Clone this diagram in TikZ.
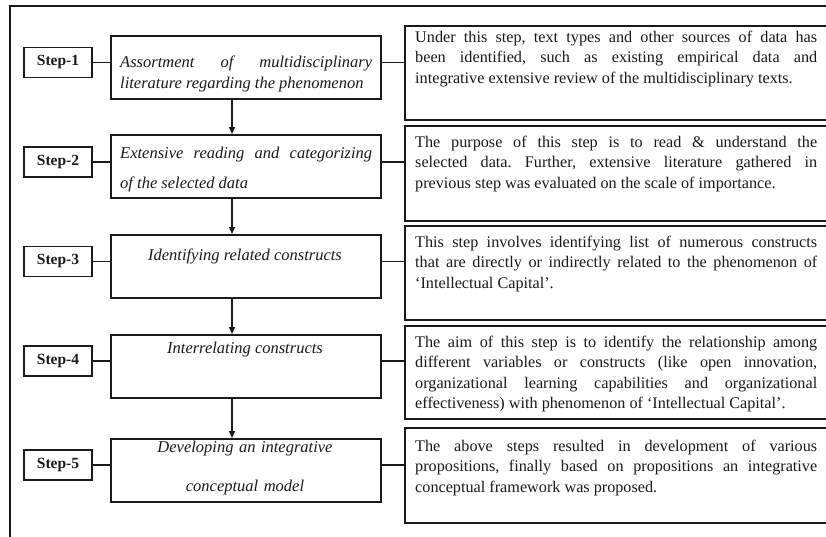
\documentclass[tikz,border=0pt]{standalone}
\usepackage{fontspec}
\setmainfont{Liberation Serif}
\usetikzlibrary{arrows.meta}
\definecolor{ink}{HTML}{1A1A1A}
\hyphenpenalty=10000
\tolerance=9999
\frenchspacing
\begin{document}
\begin{tikzpicture}[x=1pt,y=-1pt,
  stepbox/.style={draw=ink,line width=1.9pt,minimum width=68pt,minimum height=30pt,inner sep=0pt,
    font=\fontsize{15.5}{18}\selectfont\bfseries,text=ink},
  midbox/.style={draw=ink,line width=2pt,minimum width=270pt,minimum height=63pt,inner sep=0pt},
  rightbox/.style={draw=ink,line width=2pt,minimum width=425pt,minimum height=94pt,inner sep=0pt},
  midtext/.style={inner sep=0pt,text=ink,font=\fontsize{16.5}{21}\selectfont\itshape},
  righttext/.style={inner sep=0pt,text=ink,text width=402pt,align=justify,anchor=base west,
    font=\fontsize{16.2}{20.5}\selectfont},
  link/.style={draw=ink,line width=1.1pt},
  flow/.style={draw=ink,line width=1.3pt,-{Triangle[length=7pt,width=6pt]}}]
\useasboundingbox (0,0) rectangle (826,536);
\clip (0,0) rectangle (826,536);
\fill[white] (0,0) rectangle (826,536);
% outer frame
\draw[ink,line width=2.4pt] (10,560) -- (10,6) -- (840,6);
% step boxes
\node[stepbox] (s1) at (58,62.5) {Step-1};
\node[stepbox] (s2) at (58,162) {Step-2};
\node[stepbox] (s3) at (58,261.5) {Step-3};
\node[stepbox] (s4) at (58,361) {Step-4};
\node[stepbox] (s5) at (58,465) {Step-5};
% middle boxes
\node[midbox] (m1) at (246,67.5) {};
\node[midbox] (m2) at (246,166.5) {};
\node[midbox] (m3) at (246,266.5) {};
\node[midbox] (m4) at (246,366.5) {};
\node[midbox] (m5) at (246,470.5) {};
% right boxes
\node[rightbox] (r1) at (617.5,73) {};
\node[rightbox,minimum height=95pt] (r2) at (617.5,173.5) {};
\node[rightbox] (r3) at (617.5,273) {};
\node[rightbox,minimum height=93pt] (r4) at (617.5,372.5) {};
\node[rightbox,minimum height=95pt] (r5) at (617.5,475.5) {};
% middle texts
\node[midtext,text width=252pt,align=justify,anchor=base west] (t1) at (120,67)
  {Assortment of multidisciplinary\linebreak literature regarding the phenomenon};
\node[midtext,text width=252pt,align=justify,anchor=base west,font=\fontsize{16.5}{30}\selectfont\itshape] (t2) at (120,158)
  {Extensive reading and categorizing\linebreak of the selected data};
\node[midtext,anchor=base] (t3) at (245,260) {Identifying related constructs};
\node[midtext,anchor=base] (t4) at (245,353) {Interrelating constructs};
\node[midtext,text width=260pt,align=center,anchor=base,font=\fontsize{16.5}{39}\selectfont\itshape] (t5) at (245,452)
  {Developing an integrative\\conceptual model};
% right texts
\node[righttext] (d1) at (415,42)
  {Under this step, text types and other sources of data has\linebreak been identified, such as existing empirical data and\linebreak integrative extensive review of the multidisciplinary texts.};
\node[righttext] (d2) at (415,147)
  {The purpose of this step is to read \& understand the\linebreak selected data. Further, extensive literature gathered in\linebreak previous step was evaluated on the scale of importance.};
\node[righttext] (d3) at (415,247)
  {This step involves identifying list of numerous constructs\linebreak that are directly or indirectly related to the phenomenon of\linebreak `Intellectual Capital'.};
\node[righttext] (d4) at (415,347)
  {The aim of this step is to identify the relationship among\linebreak different variables or constructs (like open innovation,\linebreak organizational learning capabilities and organizational\linebreak effectiveness) with phenomenon of `Intellectual Capital'.};
\node[righttext] (d5) at (415,451)
  {The above steps resulted in development of various\linebreak propositions, finally based on propositions an integrative\linebreak conceptual framework was proposed.};
% horizontal links
\foreach \i in {1,...,5}{
  \draw[link] (s\i.east) -- (s\i.east -| m\i.west);
  \draw[link] (s\i.east -| m\i.east) -- (s\i.east -| r\i.west);
}
% vertical flow arrows
\coordinate (ax) at (232,0);
\draw[flow] (m1.south -| ax) -- (m2.north -| ax);
\draw[flow] (m2.south -| ax) -- (m3.north -| ax);
\draw[flow] (m3.south -| ax) -- (m4.north -| ax);
\draw[flow] (m4.south -| ax) -- (m5.north -| ax);
\end{tikzpicture}
\end{document}
